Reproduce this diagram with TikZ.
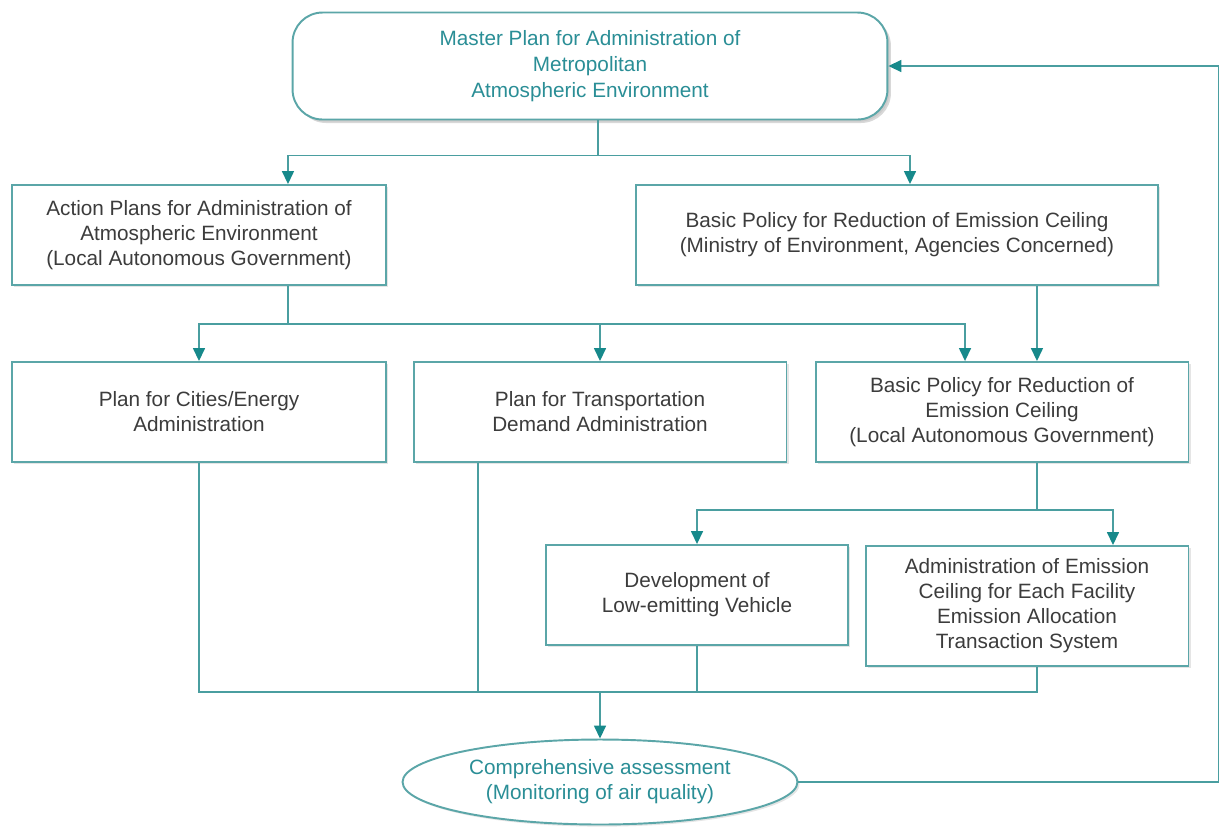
\documentclass[tikz,border=0pt]{standalone}
\usepackage{fontspec}
\setmainfont{Liberation Sans}
\usetikzlibrary{arrows.meta,positioning,shapes.geometric,shadows}
\definecolor{linkteal}{HTML}{4A9EA0}
\definecolor{tipteal}{HTML}{17898B}
\definecolor{frameteal}{HTML}{5BA6A8}
\definecolor{ink}{HTML}{3C3C3C}
\definecolor{headteal}{HTML}{2A8E96}

\begin{document}
\begin{tikzpicture}[x=0.02cm,y=-0.02cm,
      box/.style={draw=frameteal,fill=white,line width=1.1pt,align=center,inner sep=4pt,
                  minimum height=2cm,text=ink,font=\fontsize{11.8}{14.2}\selectfont,
                  drop shadow={shadow xshift=1.2pt,shadow yshift=-1.2pt,fill=black!20}},
      master/.style={box,rounded corners=0.6cm,minimum width=11.9cm,minimum height=2.14cm,
                  text=headteal,font=\fontsize{11.8}{14.7}\selectfont,
                  drop shadow={shadow xshift=2pt,shadow yshift=-2pt,fill=black!30}},
      assess/.style={box,ellipse,minimum width=7.9cm,minimum height=1.7cm,inner sep=0pt,
                  text=headteal},
      link/.style={draw=linkteal,line width=.85pt},
      flow/.style={link,-{Triangle[width=0.24cm,length=0.26cm,color=tipteal]}}]
    \useasboundingbox (0,0) rectangle (1230,826);
    \node[master] (master) at (590,66) {Master Plan for Administration of\\Metropolitan\\Atmospheric Environment};
    \node[box,minimum width=7.48cm] (action) at (199,235) {Action Plans for Administration of\\Atmospheric Environment\\(Local Autonomous Government)};
    \node[box,minimum width=10.44cm] (ministry) at (897,235) {Basic Policy for Reduction of Emission Ceiling\\(Ministry of Environment, Agencies Concerned)};
    \draw[link] ([xshift=0.16cm]master.south) -- ++(0,35) coordinate (splitA);
    \draw[flow] (splitA) -| ([xshift=1.78cm]action.north);
    \draw[flow] (splitA) -| ([xshift=0.26cm]ministry.north);

    \node[box,minimum width=7.48cm] (cities) at (199,412) {Plan for Cities/Energy\\Administration};
    \node[box,minimum width=7.46cm] (transport) at (600,412) {Plan for Transportation\\Demand Administration};
    \node[box,minimum width=7.46cm] (local) at (1002,412) {Basic Policy for Reduction of\\Emission Ceiling\\(Local Autonomous Government)};
    \draw[link] ([xshift=1.78cm]action.south) -- ++(0,38) coordinate (splitB);
    \draw[flow] (splitB) -| (cities.north);
    \draw[flow] (splitB) -| (transport.north);
    \draw[flow] (splitB) -| ([xshift=-0.74cm]local.north);
    \draw[flow] ([xshift=2.8cm]ministry.south) -- ([xshift=2.8cm]ministry.south |- local.north);

    \node[box,minimum width=6.04cm] (vehicle) at (697,595) {Development of\\Low-emitting Vehicle};
    \node[box,minimum width=6.46cm,minimum height=2.4cm] (facility) at (1027,606) {Administration of Emission\\Ceiling for Each Facility\\Emission Allocation\\Transaction System};
    \draw[link] ([xshift=0.7cm]local.south) -- ++(0,47) coordinate (splitC);
    \draw[flow] (splitC) -| (vehicle.north);
    \draw[flow] (splitC) -| ([xshift=1.72cm]facility.north);

    \node[assess] (assess) at (600,782) {Comprehensive assessment\\(Monitoring of air quality)};
    \coordinate (merge) at (600,692);
    \draw[link] (cities.south) |- ([xshift=0.2cm]facility.south |- merge) -- ([xshift=0.2cm]facility.south);
    \draw[link] ([xshift=-2.44cm]transport.south) -- ([xshift=-2.44cm]transport.south |- merge);
    \draw[link] (vehicle.south) -- (vehicle.south |- merge);
    \draw[flow] (merge) -- (assess.north);
    \draw[flow] (assess.east) -- ++(420,0) |- (master.east);
\end{tikzpicture}
\end{document}
